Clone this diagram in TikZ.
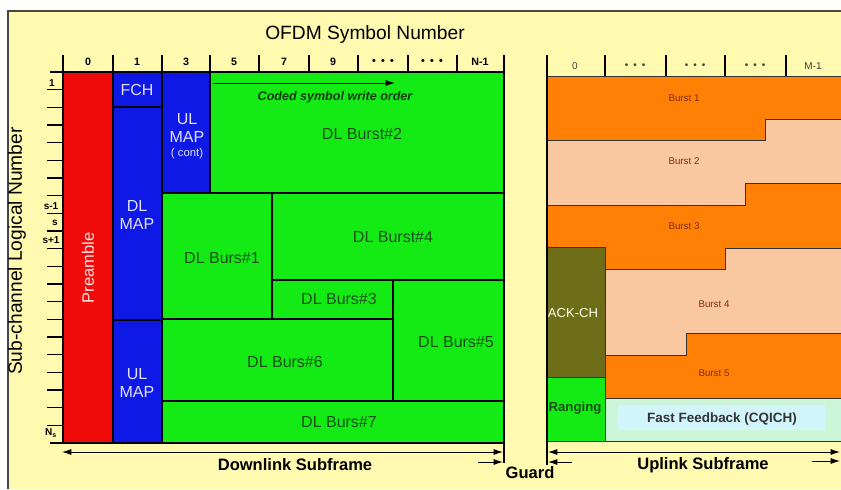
\documentclass[tikz,border=0pt]{standalone}
\usepackage{xcolor}
\usepackage{fontspec}
\setmainfont{Liberation Sans}
\usetikzlibrary{arrows.meta,positioning,calc}

\definecolor{bgyellow}{RGB}{255,250,175}
\definecolor{prered}{RGB}{240,10,10}
\definecolor{mapblue}{RGB}{15,25,230}
\definecolor{burstgreen}{RGB}{20,235,20}
\definecolor{burstorange}{RGB}{255,128,5}
\definecolor{burstpeach}{RGB}{250,200,160}
\definecolor{ackolive}{RGB}{110,110,25}
\definecolor{fbmint}{RGB}{205,245,215}
\definecolor{fbcyan}{RGB}{210,245,252}
\definecolor{txtgreen}{RGB}{25,80,25}
\definecolor{txtbrown}{RGB}{130,45,10}
\definecolor{framegray}{RGB}{70,70,70}

\newcommand{\tdots}{\textbullet\hspace{0.5em}\textbullet\hspace{0.5em}\textbullet}

\begin{document}
\begin{tikzpicture}[
    x=0.75pt, y=-0.75pt,
    every node/.style={inner sep=0pt, align=center},
    dlblock/.style={draw=black, line width=0.8pt},
    ulblock/.style={draw=black!80, line width=0.6pt},
    dltext/.style={font=\fontsize{12}{14}\selectfont, text=txtgreen},
    maptext/.style={font=\fontsize{12}{14}\selectfont, text=white!88!blue},
    ultext/.style={font=\fontsize{7.3}{8.5}\selectfont, text=txtbrown},
    hdrtext/.style={font=\bfseries\fontsize{8}{9}\selectfont},
    rowtext/.style={font=\bfseries\fontsize{7.5}{8}\selectfont},
    subtext/.style={font=\bfseries\fontsize{12.4}{14}\selectfont},
    arrow/.style={-{Latex[length=7pt,width=4.5pt]},line width=0.7pt},
    dimarrow/.style={{Latex[length=7pt,width=4.5pt]}-{Latex[length=7pt,width=4.5pt]},line width=0.7pt}
]
\useasboundingbox (0,0) rectangle (841,489);

% frame
\fill[white] (0,0) rectangle (841,489);
\fill[bgyellow] (8,11) rectangle (841,489);
\draw[framegray, line width=1pt] (8,489) -- (8,11) -- (841,11);

% titles
\node[font=\fontsize{14.4}{16}\selectfont] (title) at (365,35) {OFDM Symbol Number};
\node[font=\fontsize{14.4}{16}\selectfont, rotate=90] (yaxis) at (17,251) {Sub-channel Logical Number};

% downlink blocks
\filldraw[dlblock, fill=prered] (63,72) rectangle (113,443);
\filldraw[dlblock, fill=mapblue] (113,72) rectangle (162,107);
\filldraw[dlblock, fill=mapblue] (113,107) rectangle (162,320);
\filldraw[dlblock, fill=mapblue] (113,320) rectangle (162,443);
\filldraw[dlblock, fill=mapblue] (162,72) rectangle (210,193);
\filldraw[dlblock, fill=burstgreen] (210,72) rectangle (504,193);
\filldraw[dlblock, fill=burstgreen] (162,193) rectangle (272,319);
\filldraw[dlblock, fill=burstgreen] (272,193) rectangle (504,280);
\filldraw[dlblock, fill=burstgreen] (272,280) rectangle (393,319);
\filldraw[dlblock, fill=burstgreen] (393,280) rectangle (504,401);
\filldraw[dlblock, fill=burstgreen] (162,319) rectangle (393,401);
\filldraw[dlblock, fill=burstgreen] (162,401) rectangle (504,443);

\node[font=\fontsize{12.4}{14}\selectfont, text=white!90!red, rotate=90] (preamble) at (88,268) {Preamble};
\node[maptext] (fch) at (137,90) {FCH};
\node[maptext] (dlmap) at (137,215) {DL\\MAP};
\node[maptext] (ulmap) at (137,383) {UL\\MAP};
\node[maptext] (ulcont) at (187,128) {UL\\MAP};
\node[font=\fontsize{8.5}{9}\selectfont, text=white!88!blue] (cont) at (187,154) {( cont)};
\node[dltext] (burst2) at (362,134) {DL Burst\#2};
\node[font=\bfseries\itshape\fontsize{9.4}{11}\selectfont, text=txtgreen!70!black] (order) at (335,97) {Coded symbol write order};
\node[dltext] (burst1) at (222,258) {DL Burs\#1};
\node[dltext] (burst4) at (393,237) {DL Burst\#4};
\node[dltext] (burst3) at (339,299) {DL Burs\#3};
\node[dltext] (burst5) at (456,342) {DL Burs\#5};
\node[dltext] (burst6) at (285,362) {DL Burs\#6};
\node[dltext] (burst7) at (339,422) {DL Burs\#7};

\coordinate (cwA) at (213,83);
\coordinate (cwB) at (395,83);
\draw[arrow] (cwA) -- (cwB);

% downlink axes
\draw[line width=1.4pt] (50,72) -- (504,72);
\draw[line width=1.6pt] (50,443) -- (504,443);
\draw[line width=1.2pt] (63,55) -- (63,443);
\draw[line width=2pt] (504,55) -- (504,443);
\draw[line width=0.8pt] (504,443) -- (504,463);
\foreach \x in {113,162,210,259,309,358,408,457}
    \draw[line width=1pt] (\x,55) -- (\x,72);
\foreach \i in {1,...,20}
    \draw[line width=1pt] (47,{72+17.67*\i}) -- (63,{72+17.67*\i});
\foreach \x/\lab [count=\n] in {88/0,137/1,186/3,234/5,284/7,333/9,383/\tdots,432/\tdots,480/N-1}
    \node[hdrtext] (dlh\n) at (\x,62) {\lab};

\node[rowtext] (row1) at (52,83) {1};
\node[rowtext] (rowsm) at (51,206) {s-1};
\node[rowtext] (rows) at (55,223) {s};
\node[rowtext] (rowsp) at (51,240) {s+1};
\node[rowtext] (rowns) at (51,433) {N\textsubscript{s}};

% uplink blocks
\filldraw[ulblock, fill=burstorange] (547,76) -- (841,76) -- (841,119) -- (765,119) -- (765,140) -- (547,140) -- cycle;
\filldraw[ulblock, fill=burstpeach] (547,140) -- (765,140) -- (765,119) -- (841,119) -- (841,183) -- (745,183) -- (745,205) -- (547,205) -- cycle;
\filldraw[ulblock, fill=burstorange] (547,205) -- (745,205) -- (745,183) -- (841,183) -- (841,248) -- (725,248) -- (725,269) -- (605,269) -- (605,247) -- (547,247) -- cycle;
\filldraw[ulblock, fill=burstpeach] (605,269) -- (725,269) -- (725,248) -- (841,248) -- (841,333) -- (686,333) -- (686,355) -- (605,355) -- cycle;
\filldraw[ulblock, fill=burstorange] (605,355) -- (686,355) -- (686,333) -- (841,333) -- (841,398) -- (605,398) -- cycle;
\filldraw[ulblock, fill=ackolive] (547,247) rectangle (605,377);
\filldraw[ulblock, fill=burstgreen] (547,377) rectangle (605,441);
\filldraw[ulblock, fill=fbmint] (605,398) rectangle (841,441);
\fill[fbcyan] (618,405) rectangle (825,430);

\node[ultext] (ul1) at (684,98) {Burst 1};
\node[ultext] (ul2) at (684,161) {Burst 2};
\node[ultext] (ul3) at (684,226) {Burst 3};
\node[ultext] (ul4) at (714,304) {Burst 4};
\node[ultext] (ul5) at (714,373) {Burst 5};
\node[font=\fontsize{9.8}{11}\selectfont, text=white!92!yellow] (ack) at (573,313) {ACK-CH};
\node[font=\bfseries\fontsize{9.9}{11}\selectfont, text=txtgreen] (ranging) at (575,408) {Ranging};
\node[font=\bfseries\fontsize{10.1}{12}\selectfont, text=black!80] (cqich) at (722,419) {Fast Feedback (CQICH)};

% uplink axes
\draw[line width=1pt] (547,55) -- (547,465);
\foreach \x in {605,666,725,786}
    \draw[line width=1pt] (\x,55) -- (\x,76);
\foreach \x/\lab [count=\n] in {575/0,635/\tdots,695/\tdots,755/\tdots,813/M-1}
    \node[font=\fontsize{7.5}{8}\selectfont, text=black!75] (ulh\n) at (\x,66) {\lab};

% subframe arrows
\coordinate (dlL) at (62,452);
\coordinate (dlR) at (503,452);
\coordinate (ulL) at (548,452);
\coordinate (ulR) at (840,452);
\coordinate (gdA) at (478,462);
\coordinate (gdB) at (503,462);
\coordinate (gdC) at (572,462);
\coordinate (gdD) at (548,462);
\coordinate (ulA) at (812,461);
\coordinate (ulB) at (840,461);
\draw[dimarrow] (dlL) -- (dlR);
\draw[dimarrow] (ulL) -- (ulR);
\draw[arrow] (gdA) -- (gdB);
\draw[arrow] (gdC) -- (gdD);
\draw[arrow] (ulA) -- (ulB);

\node[subtext] (dlsub) at (295,465) {Downlink Subframe};
\node[subtext] (guard) at (530,473) {Guard};
\node[subtext] (ulsub) at (703,465) {Uplink Subframe};

\end{tikzpicture}
\end{document}
